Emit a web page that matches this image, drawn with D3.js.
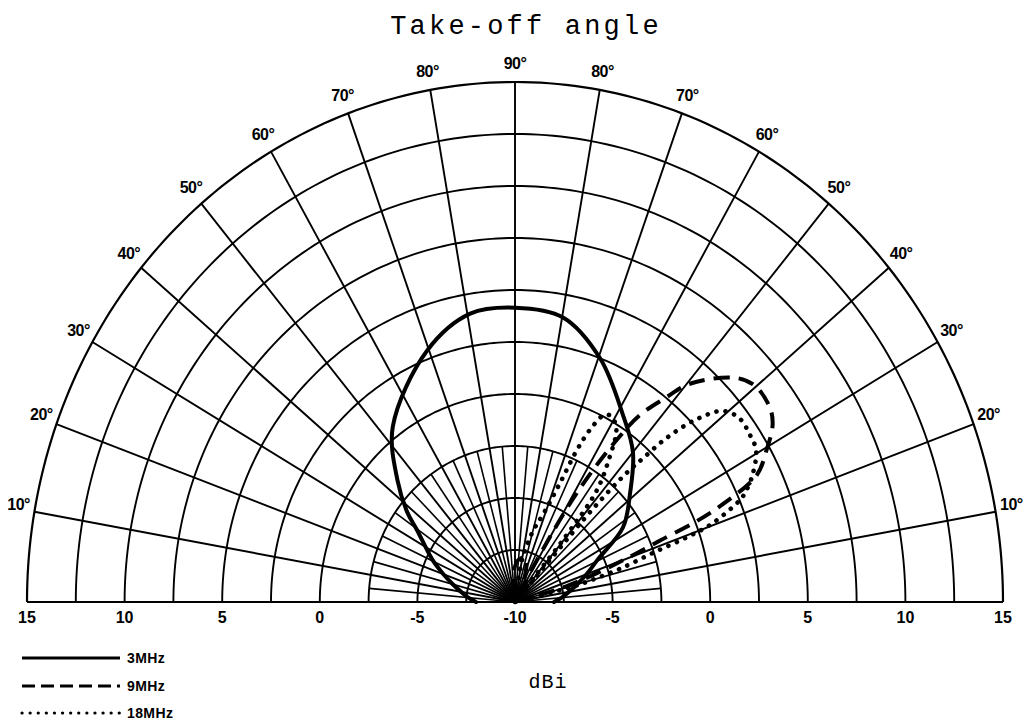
<!DOCTYPE html>
<html>
<head>
<meta charset="utf-8">
<script src="https://cdn.jsdelivr.net/npm/d3@7"></script>
<style>
  body { margin: 0; background: #fff; }
  svg { display: block; }
</style>
</head>
<body>
<svg id="chart" width="1027" height="727"></svg>
<script>
// Gain axis (dBi): centre of the half-disc is -10, the rim is +15
const gainTicks = [-10, -5, 0, 5, 10, 15];
const ringLevels = [-7.5, -5, -2.5, 0, 2.5, 5, 7.5, 10, 12.5, 15];
// Plane angle: 0 = forward horizon, 90 = zenith, 180 = rear horizon
const spokeAngles = [10, 20, 30, 40, 50, 60, 70, 80, 90, 100, 110, 120, 130, 140, 150, 160, 170];
const fineSpokeAngles = [5, 15, 25, 35, 45, 55, 65, 75, 85, 95, 105, 115, 125, 135, 145, 155, 165, 175];

// 3 MHz pattern
const angle3MHz = [0, 5, 10, 15, 20, 25.7, 33, 41.7, 50, 58.7, 69.6, 79.8, 90, 99.4, 110.4, 126.6, 135.8, 142, 145.4, 154.3, 160, 165, 170, 175, 180];
const gain3MHz  = [-8, -7.6, -7.2, -6.7, -6.1, -5.3, -3.4, -2.1, -0.6, 0.6, 2.5, 3.9, 4.15, 4.05, 2.9, 0.5, -1.6, -3.0, -3.9, -5.3, -6.1, -6.7, -7.2, -7.6, -8];

// 9 MHz pattern
const angle9MHz = [12, 16, 19, 20.5, 21.7, 22.6, 23.8, 26.2, 29.5, 32.8, 35.5, 40.2, 43.7, 49.5, 51.9, 54.6, 56.2, 57.8, 59.4, 61, 62.5, 68, 76, 86, 94, 100];
const gain9MHz  = [-10, -7.3, -5, -3.5, -2, 0, 1.6, 3.8, 4.8, 5.7, 6.05, 6.1, 5.6, 3.8, 2.45, 1.0, -0.6, -2.5, -4.75, -8, -10, -8.6, -7.8, -8.0, -8.8, -10];

// 18 MHz pattern
const angle18MHz = [11, 14, 15, 16.5, 18.5, 19.5, 20.5, 23, 24, 26.6, 30.6, 33.7, 37.5, 40.8, 43.5, 45.5, 46.5, 47.3, 48.3, 49.5, 50.5, 52, 55, 58, 61, 63, 65, 66.5, 68, 71, 75, 80, 86];
const gain18MHz  = [-10, -7, -6, -4.4, -2.5, -0.6, 0.8, 2.5, 2.9, 3.6, 4.35, 4.47, 4.5, 4.06, 2.7, 1.0, -0.5, -1.5, -4, -10, -6, -3.2, -1.6, -0.2, 0.2, 0.1, -0.8, -2, -3.8, -5.5, -6.5, -8, -10];

const series = [
  { name: "3MHz",  angles: angle3MHz,  gains: gain3MHz,  dash: null,    width: 4,   cap: "round" },
  { name: "9MHz",  angles: angle9MHz,  gains: gain9MHz,  dash: "16,9",  width: 4,   cap: "butt" },
  { name: "18MHz", angles: angle18MHz, gains: gain18MHz, dash: "0.1,9", width: 4.6, cap: "round" }
];

const svg = d3.select("#chart");
const cx = 515, cy = 602, rx = 488, ry = 520;
const r = d3.scaleLinear().domain([-10, 15]).range([0, 1]).clamp(true);
const rad = d => d * Math.PI / 180;
const proj = (a, g) => [cx + rx * r(g) * Math.cos(rad(a)), cy - ry * r(g) * Math.sin(rad(a))];

const grid = svg.append("g").attr("fill", "none").attr("stroke", "#000").attr("stroke-width", 1.9);

// concentric rings
const ringLine = d3.line();
ringLevels.forEach(level => {
  const pts = d3.range(0, 180.5, 1).map(a => proj(a, level));
  grid.append("path").attr("d", ringLine(pts)).attr("stroke-width", level === 15 ? 2.2 : 1.9);
});

// radial spokes
spokeAngles.forEach(a => {
  const [x, y] = proj(a, 15);
  grid.append("line").attr("x1", cx).attr("y1", cy).attr("x2", x).attr("y2", y);
});
fineSpokeAngles.forEach(a => {
  const [x, y] = proj(a, -2.5);
  grid.append("line").attr("x1", cx).attr("y1", cy).attr("x2", x).attr("y2", y).attr("stroke-width", 1.6);
});

// horizon line
grid.append("line")
  .attr("x1", proj(180, 15)[0]).attr("y1", cy)
  .attr("x2", proj(0, 15)[0]).attr("y2", cy)
  .attr("stroke-width", 2.2);

// take-off angle labels around the rim
const labels = svg.append("g")
  .attr("font-family", "Liberation Sans, Arial, sans-serif")
  .attr("font-size", 16).attr("font-weight", "bold")
  .attr("text-anchor", "middle").attr("dominant-baseline", "central");
spokeAngles.forEach(a => {
  const [x, y] = proj(a, 15);
  const ux = Math.cos(rad(a)), uy = -Math.sin(rad(a));
  labels.append("text")
    .attr("x", x + ux * 16)
    .attr("y", y + uy * 14 - 5)
    .attr("letter-spacing", -0.5)
    .text((a <= 90 ? a : 180 - a) + "°");
});

// gain labels along the horizon
const gainG = svg.append("g")
  .attr("font-family", "Liberation Sans, Arial, sans-serif")
  .attr("font-size", 16).attr("font-weight", "bold")
  .attr("text-anchor", "middle");
gainTicks.forEach(t => {
  const xs = t === -10 ? [cx] : [cx - rx * r(t), cx + rx * r(t)];
  xs.forEach(x => {
    gainG.append("text").attr("x", x).attr("y", 623).text(t);
  });
});

// radiation patterns
const patternLine = d3.line().curve(d3.curveCatmullRom.alpha(0.5));
const curves = svg.append("g").attr("fill", "none").attr("stroke", "#000");
series.forEach(s => {
  const pts = s.angles.map((a, i) => proj(a, s.gains[i]));
  curves.append("path")
    .attr("d", patternLine(pts))
    .attr("stroke-width", s.width)
    .attr("stroke-linecap", s.cap)
    .attr("stroke-linejoin", "round")
    .attr("stroke-dasharray", s.dash);
});

// title and axis name
svg.append("text")
  .attr("x", 526).attr("y", 34)
  .attr("text-anchor", "middle")
  .attr("font-family", "Liberation Mono, DejaVu Sans Mono, monospace")
  .attr("font-size", 27).attr("letter-spacing", 3.2)
  .text("Take-off angle");

svg.append("text")
  .attr("x", 548).attr("y", 688)
  .attr("text-anchor", "middle")
  .attr("font-family", "Liberation Mono, DejaVu Sans Mono, monospace")
  .attr("font-size", 20).attr("letter-spacing", 1)
  .text("dBi");

// legend
const legend = svg.append("g");
const legendRows = [658, 686, 713];
series.forEach((s, i) => {
  const y = legendRows[i];
  legend.append("line")
    .attr("x1", 22).attr("x2", 120).attr("y1", y).attr("y2", y)
    .attr("stroke", "#000")
    .attr("stroke-width", i === 2 ? 3.2 : 2.8)
    .attr("stroke-linecap", i === 2 ? "round" : "butt")
    .attr("stroke-dasharray", i === 1 ? "13,6" : (i === 2 ? "0.1,8" : null));
  legend.append("text")
    .attr("x", 127).attr("y", y + 5)
    .attr("font-family", "Liberation Sans, Arial, sans-serif")
    .attr("font-size", 14).attr("font-weight", "bold")
    .attr("letter-spacing", 0.4)
    .text(s.name);
});
</script>
</body>
</html>
